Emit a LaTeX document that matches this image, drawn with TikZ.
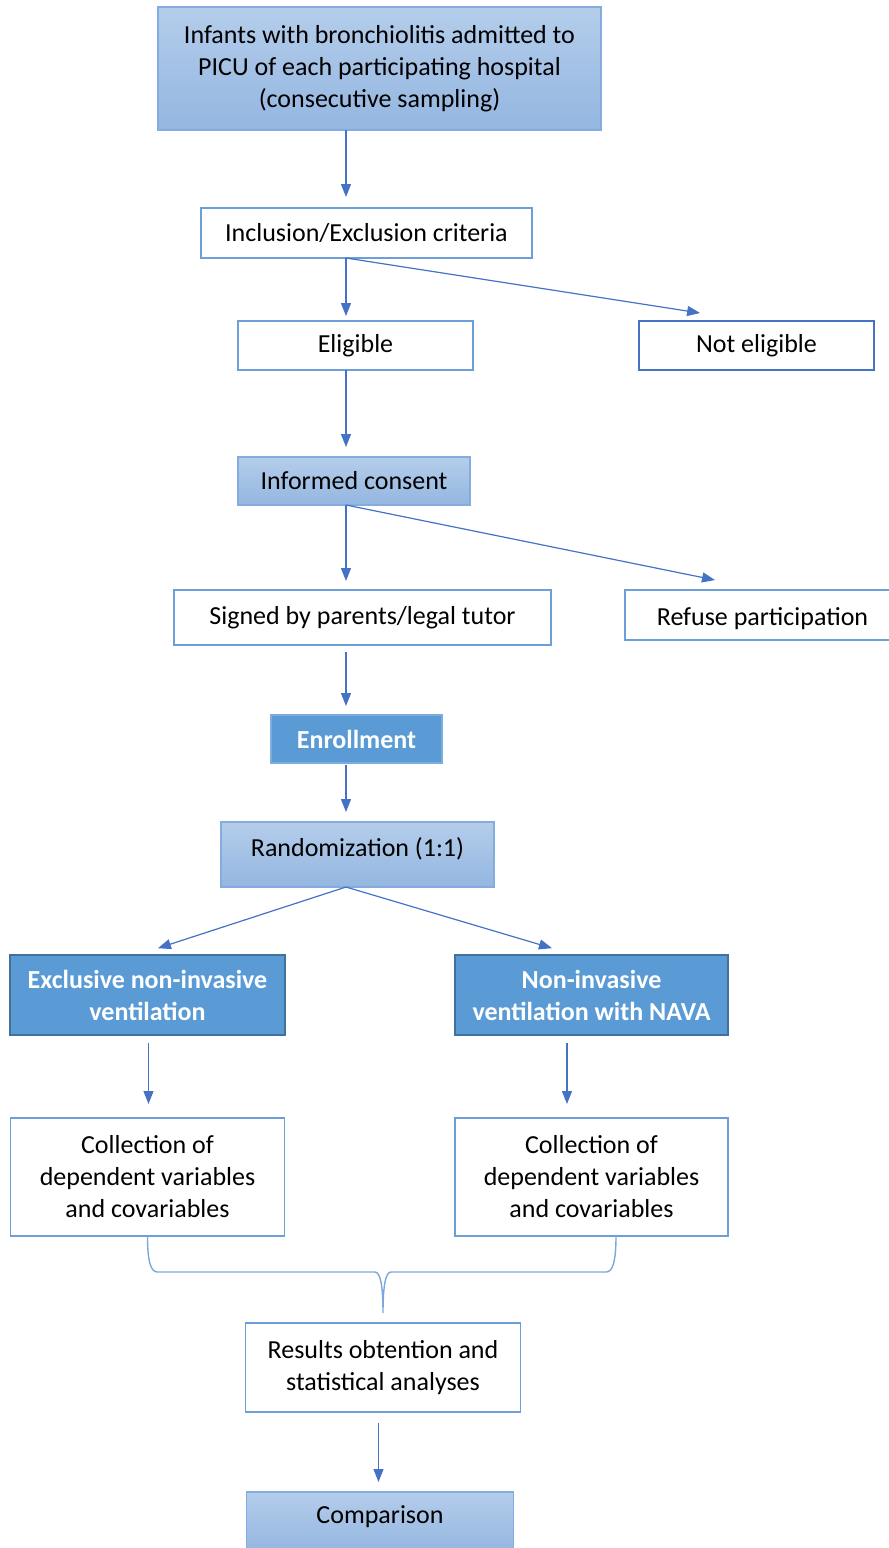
\documentclass[tikz,border=0pt]{standalone}
\usepackage{fontspec}
\setmainfont{Carlito}
\usetikzlibrary{arrows.meta,positioning,calc}
\definecolor{gtop}{HTML}{B4CDEB}
\definecolor{gbot}{HTML}{94B6E0}
\definecolor{gline}{HTML}{84ACDF}
\definecolor{wline}{HTML}{6C9ED8}
\definecolor{nline}{HTML}{4472C4}
\definecolor{sfill}{HTML}{5B9BD5}
\definecolor{eline}{HTML}{7CADDE}
\definecolor{aline}{HTML}{41719C}
\definecolor{arr}{HTML}{4472C4}
\definecolor{brc}{HTML}{7DA7DC}

\begin{document}
\begin{tikzpicture}[
  font=\fontsize{13}{16}\selectfont, >={Triangle[length=6.5pt,width=5pt]},
  base/.style={align=center, inner sep=0pt, outer sep=0pt, line width=0.9pt},
  grad/.style={base, draw=gline, top color=gtop, bottom color=gbot},
  wht/.style={base, draw=wline, fill=white},
  enr/.style={base, draw=eline, fill=sfill, text=white, font=\fontsize{13}{16}\selectfont\bfseries},
  arm/.style={base, draw=aline, fill=sfill, text=white, font=\fontsize{13}{16}\selectfont\bfseries},
  link/.style={->, draw=arr, line width=0.6pt},
  brace/.style={draw=brc, line width=0.7pt},
]
\useasboundingbox (0,0) rectangle (444.5pt,-774pt);
% main column
\node[grad, minimum width=221.5pt, minimum height=61.5pt] (infants) at (189.75pt,-34.25pt) {Infants with bronchiolitis admitted to\\PICU of each participating hospital\\(consecutive sampling)};
\node[wht, minimum width=165.5pt, minimum height=25pt, below=39pt of infants, xshift=-6.5pt] (crit) {Inclusion/Exclusion criteria};
\node[wht, minimum width=117.5pt, minimum height=24.5pt, below=31.5pt of crit, xshift=-5.5pt] (elig) {Eligible};
\node[wht, draw=nline, minimum width=117.5pt, minimum height=24.5pt, right=83pt of elig] (notelig) {Not eligible};
\node[grad, minimum width=116pt, minimum height=24pt, below=43.5pt of elig, xshift=-0.75pt] (consent) {Informed consent};
\node[wht, minimum width=188.5pt, minimum height=27.5pt, below=42.5pt of consent, xshift=4.25pt] (signed) {Signed by parents/legal tutor};
\node[wht, minimum width=137.5pt, minimum height=25pt, text height=13pt, text depth=3pt, right=37pt of signed, yshift=1.25pt] (refuse) {Refuse participation};
\node[enr, minimum width=85.5pt, minimum height=24pt, below=35pt of signed, xshift=-3pt] (enroll) {Enrollment};
\node[grad, minimum width=136.5pt, minimum height=32.5pt, text height=8pt, text depth=6.5pt, below=29.5pt of enroll, xshift=0.5pt] (random) {Randomization (1:1)};
% two arms
\node[arm, minimum width=137.5pt, minimum height=40pt, below=34pt of random, xshift=-105pt] (exclusive) {Exclusive non-invasive\\ventilation};
\node[arm, minimum width=136.5pt, minimum height=40pt, right=85pt of exclusive] (nava) {Non-invasive\\ventilation with NAVA};
\node[wht, minimum width=137pt, minimum height=59pt, below=41.5pt of exclusive] (collA) {Collection of\\dependent variables\\and covariables};
\node[wht, minimum width=136.5pt, minimum height=59pt, below=41.5pt of nava] (collB) {Collection of\\dependent variables\\and covariables};
% results
\node[wht, minimum width=137.5pt, minimum height=44.5pt, below=43.5pt of collA, xshift=117.75pt] (results) {Results obtention and\\statistical analyses};
\node[grad, minimum width=133.5pt, minimum height=30pt, text height=8pt, text depth=7pt, below=40pt of results, xshift=-1.5pt] (compare) {Comparison};
% arrows down the column
\draw[link, shorten >=5.5pt] ([xshift=-16.75pt]infants.south) -- ([xshift=-10.25pt]crit.north);
\draw[link, shorten >=2.5pt] ([xshift=-10.25pt]crit.south) -- ([xshift=-4.75pt]elig.north);
\draw[link, shorten >=26pt] ([xshift=-10.25pt]crit.south) -- ([xshift=-2.5pt]notelig.north);
\draw[link, shorten >=5pt] ([xshift=-4.75pt]elig.south) -- ([xshift=-4pt]consent.north);
\draw[link, shorten >=4.5pt] ([xshift=-4pt]consent.south) -- ([xshift=-8.25pt]signed.north);
\draw[link, shorten >=25pt] ([xshift=-4pt]consent.south) -- ([xshift=0.75pt]refuse.north);
\draw[link, shorten <=3.5pt, shorten >=4.5pt] ([xshift=-8.25pt]signed.south) -- ([xshift=-5.25pt]enroll.north);
\draw[link, shorten <=1pt, shorten >=5pt] ([xshift=-5.25pt]enroll.south) -- ([xshift=-5.75pt]random.north);
% randomization splits
\draw[link, shorten >=11pt] ([xshift=-5.75pt]random.south) -- ([xshift=-5.25pt]exclusive.north);
\draw[link, shorten >=12pt] ([xshift=-5.75pt]random.south) -- ([xshift=-8.25pt]nava.north);
\draw[link, shorten <=4pt, shorten >=7pt] ([xshift=0.5pt]exclusive.south) -- ([xshift=0.5pt]collA.north);
\draw[link, shorten <=4pt, shorten >=7pt] ([xshift=-12.25pt]nava.south) -- ([xshift=-12.25pt]collB.north);
% brace joining both arms
\coordinate (tip) at ([yshift=5pt]results.north);
\coordinate (braceB) at ([xshift=12.25pt]collB.south);
\draw[brace] (collA.south) .. controls +(0,-14pt) and +(-3pt,0) .. ($(collA.south)+(5pt,-18pt)$)
  -- ($(tip)+(-4pt,20.5pt)$) .. controls +(3pt,0) and +(0,12pt) .. (tip)
  .. controls +(0,12pt) and +(-3pt,0) .. ($(tip)+(4pt,20.5pt)$)
  -- ($(braceB)+(-5pt,-18pt)$) .. controls +(3pt,0) and +(0,-14pt) .. (braceB);
\draw[link, shorten <=5.5pt, shorten >=5pt] ([xshift=-2.25pt]results.south) -- ([xshift=-0.75pt]compare.north);
\end{tikzpicture}
\end{document}
